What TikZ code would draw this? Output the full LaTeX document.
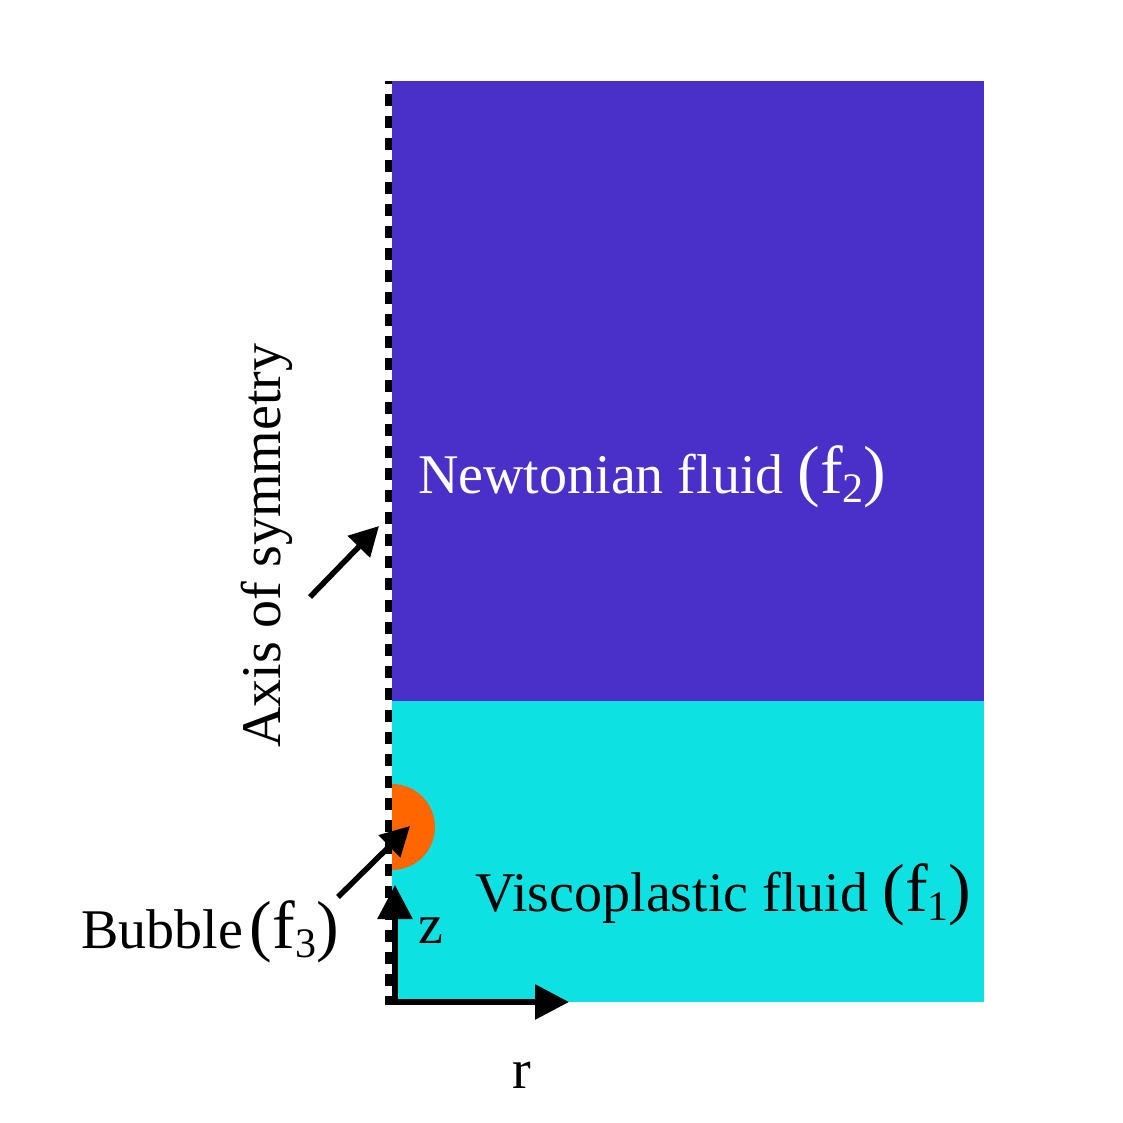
\documentclass[tikz,border=0pt]{standalone}
\usepackage{fontspec}
\setmainfont{Liberation Serif}
\usetikzlibrary{arrows.meta}
\definecolor{newtpurple}{RGB}{74,48,200}
\definecolor{viscocyan}{RGB}{13,225,225}
\definecolor{bubbleorange}{RGB}{255,102,0}
\newcommand\fsub[1]{{\fontsize{68}{68}\selectfont(f}\raisebox{-9pt}{\fontsize{42}{42}\selectfont #1}{\fontsize{68}{68}\selectfont)}}
\begin{document}
\begin{tikzpicture}[x=1pt,y=-1pt,
  lbl/.style={inner sep=0pt,anchor=base west,font=\fontsize{56}{60}\selectfont},
  bigarrow/.style={line width=6pt,-{Triangle[length=34pt,width=34pt]}},
  smallarrow/.style={line width=5.5pt,-{Triangle[length=29pt,width=30pt]}}]
\useasboundingbox (0,0) rectangle (1123,1123);
% regions
\fill[newtpurple] (392,81) rectangle (984,701);
\fill[viscocyan] (392,701) rectangle (984,1002);
\fill[bubbleorange] (392,784) arc(-90:90:43) -- cycle;
% axis
\coordinate (axtop) at (388.5,81);
\coordinate (axbot) at (388.5,1005);
\draw[line width=7pt,dash pattern=on 12pt off 10pt,dash phase=9pt] (axtop) -- (axbot);
% coordinate arrows
\coordinate (orig) at (395,1005);
\coordinate (ztip) at (395,885);
\coordinate (rorig) at (392,1002);
\coordinate (rtip) at (569,1002);
\draw[bigarrow] (orig) -- (ztip);
\draw[bigarrow] (rorig) -- (rtip);
% labels
\node[lbl,text=white] (newt) at (418,493) {Newtonian fluid \fsub{2}};
\node[lbl] (visc) at (475,911) {Viscoplastic fluid \fsub{1}};
\node[lbl] (bub) at (81,948) {Bubble\hspace{7pt}\fsub{3}};
\node[lbl] (zl) at (418,943) {z};
\node[lbl] (rl) at (512,1088) {r};
\node[lbl,rotate=90] (axl) at (280,748) {Axis of symmetry};
% pointer arrows
\coordinate (axfrom) at (310,597);
\coordinate (axto) at (379,526);
\draw[smallarrow] (axfrom) -- (axto);
\coordinate (bfrom) at (338,897);
\coordinate (bto) at (410,826);
\draw[smallarrow] (bfrom) -- (bto);
\end{tikzpicture}
\end{document}
